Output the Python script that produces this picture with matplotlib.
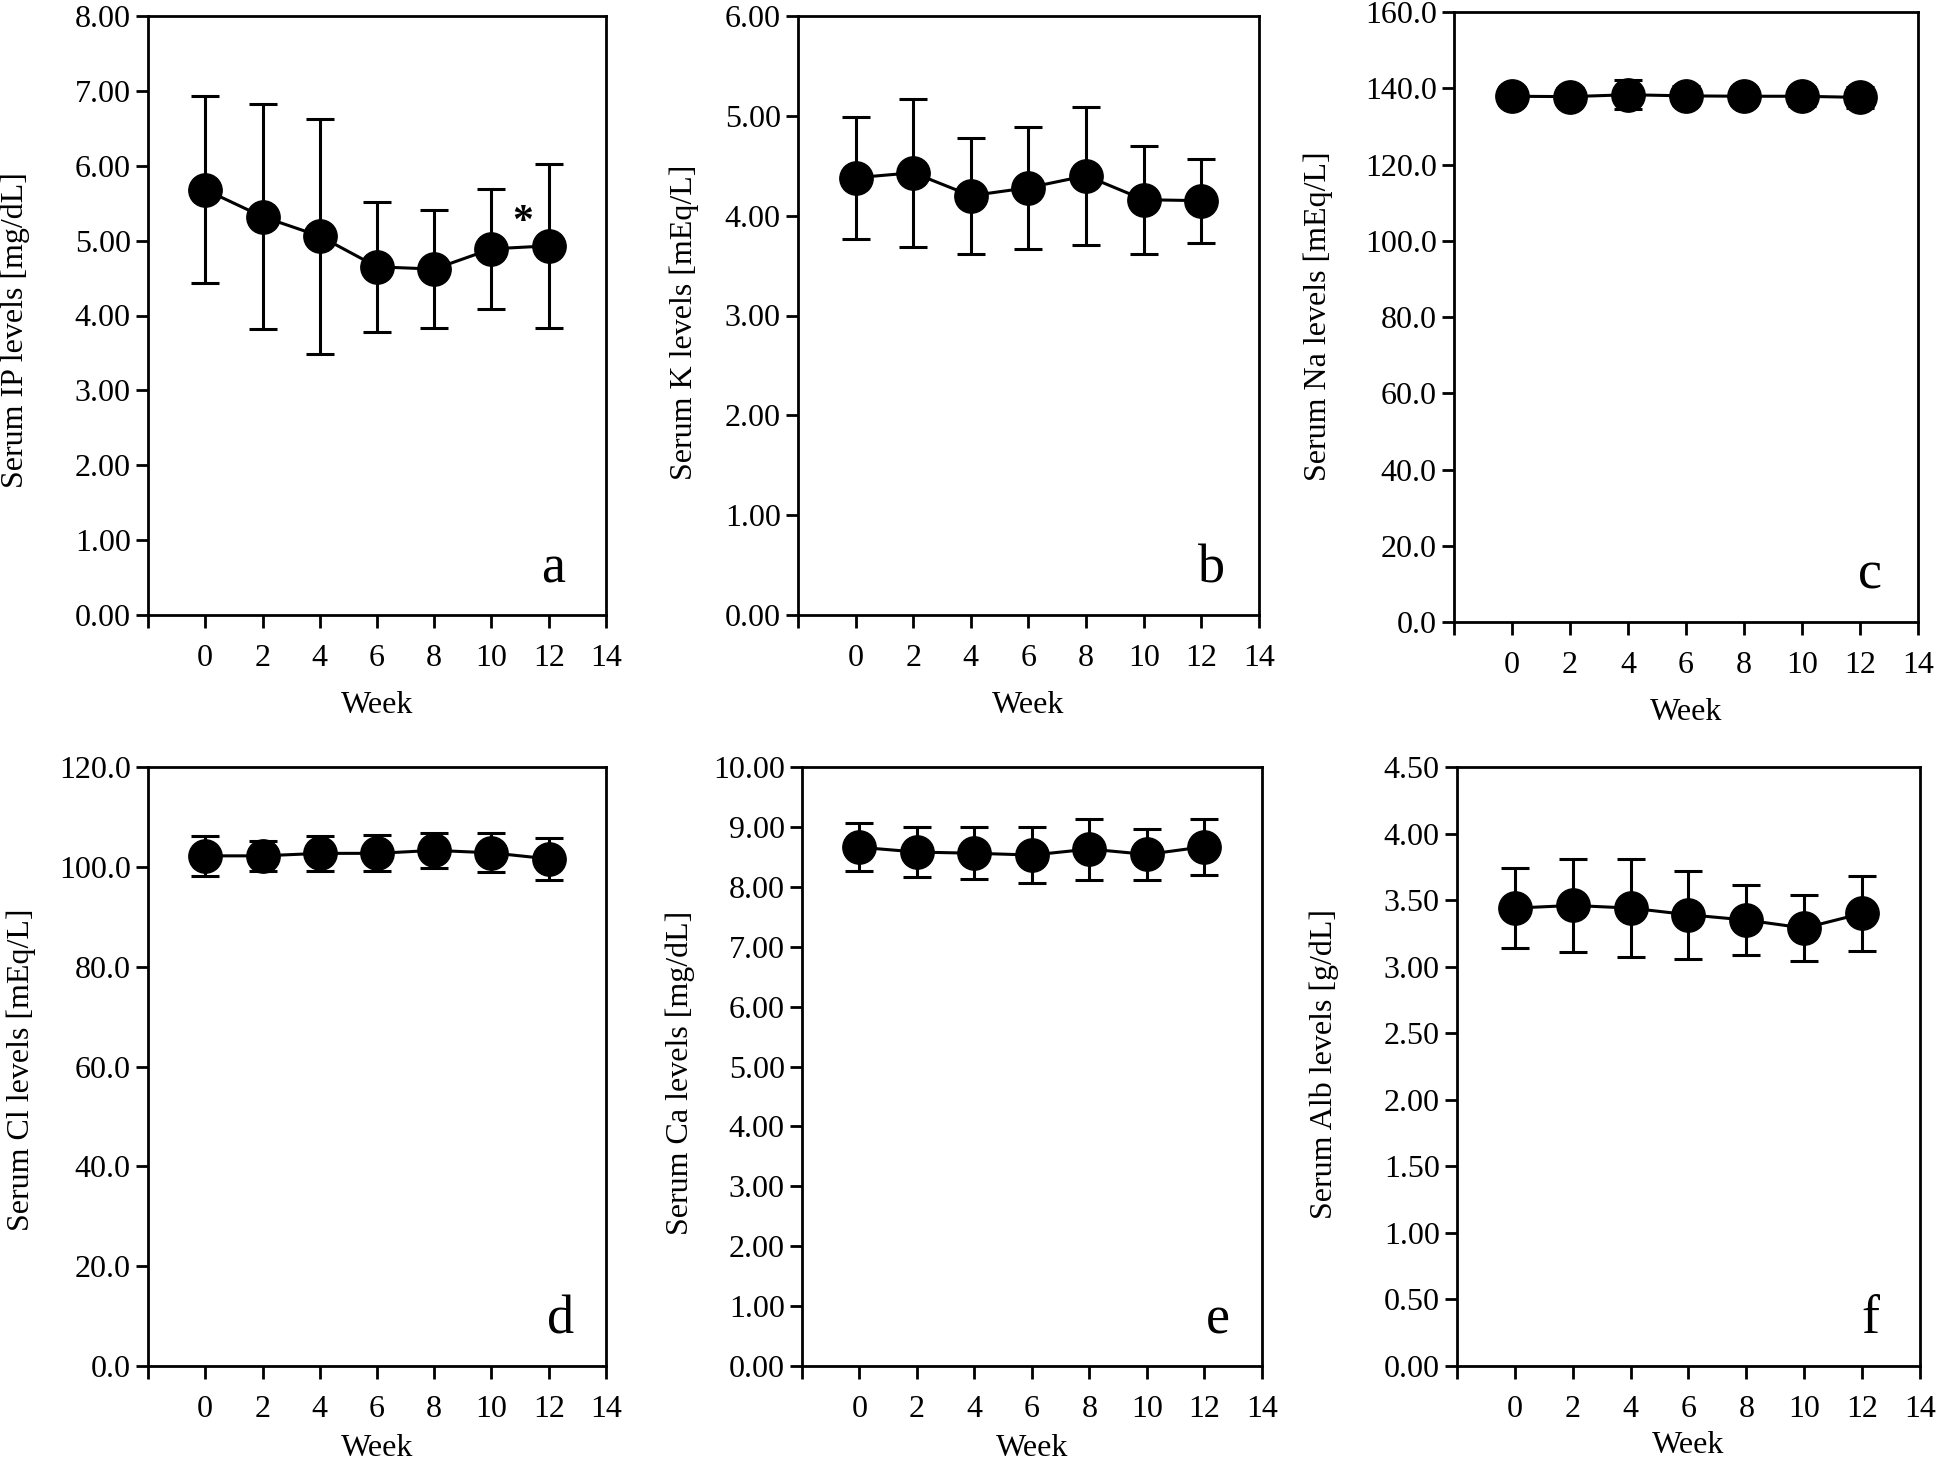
import matplotlib
matplotlib.use("Agg")
import matplotlib.pyplot as plt
from matplotlib.ticker import FormatStrFormatter
import numpy as np

plt.rcParams['font.family'] = ['Liberation Serif', 'DejaVu Serif']

weeks = [0, 2, 4, 6, 8, 10, 12]

ip_mean = [5.68, 5.32, 5.06, 4.65, 4.62, 4.89, 4.93]
ip_sd = [1.25, 1.50, 1.57, 0.87, 0.79, 0.80, 1.10]

k_mean = [4.38, 4.43, 4.20, 4.28, 4.40, 4.16, 4.15]
k_sd = [0.61, 0.74, 0.58, 0.61, 0.69, 0.54, 0.42]

na_mean = [137.9, 137.8, 138.3, 138.0, 137.9, 137.9, 137.6]
na_sd = [2.4, 2.3, 3.8, 2.5, 2.4, 2.5, 2.7]

cl_mean = [102.2, 102.2, 102.7, 102.7, 103.3, 102.8, 101.6]
cl_sd = [4.0, 3.0, 3.5, 3.6, 3.5, 3.9, 4.2]

ca_mean = [8.66, 8.58, 8.56, 8.53, 8.63, 8.54, 8.67]
ca_sd = [0.40, 0.41, 0.43, 0.47, 0.51, 0.42, 0.47]

alb_mean = [3.44, 3.46, 3.44, 3.39, 3.35, 3.29, 3.40]
alb_sd = [0.30, 0.35, 0.37, 0.33, 0.26, 0.25, 0.28]

W, H = 1940, 1462
fig = plt.figure(figsize=(W / 100, H / 100), dpi=100)

# left, right, top, bottom (px), y-label centre (x, y px), letter x (axes frac), xlabel pad
boxes = [
    (148, 606, 16, 615, 15, 330, 0.884, 13),
    (798, 1259, 16, 615, 684, 322, 0.898, 13),
    (1454, 1918, 12, 622, 1318, 316, 0.897, 13),
    (148, 606, 767, 1366, 21, 1070, 0.900, 7),
    (802, 1262, 767, 1366, 680, 1073, 0.905, 7),
    (1457, 1920, 767, 1366, 1324, 1064, 0.892, 5),
]

panels = [
    (ip_mean, ip_sd, 'Serum IP levels [mg/dL]', 8.0, 1.0, '%.2f', 'a'),
    (k_mean, k_sd, 'Serum K levels [mEq/L]', 6.0, 1.0, '%.2f', 'b'),
    (na_mean, na_sd, 'Serum Na levels [mEq/L]', 160.0, 20.0, '%.1f', 'c'),
    (cl_mean, cl_sd, 'Serum Cl levels [mEq/L]', 120.0, 20.0, '%.1f', 'd'),
    (ca_mean, ca_sd, 'Serum Ca levels [mg/dL]', 10.0, 1.0, '%.2f', 'e'),
    (alb_mean, alb_sd, 'Serum Alb levels [g/dL]', 4.5, 0.5, '%.2f', 'f'),
]

for (l, r, t, b, lx, ly, tx, xpad), (mean, sd, ylabel, ymax, step, fmt, letter) in zip(boxes, panels):
    ax = fig.add_axes([l / W, 1 - b / H, (r - l) / W, (b - t) / H])
    ax.errorbar(weeks, mean, yerr=sd, fmt='-o', color='black', lw=2.2,
                markersize=24, elinewidth=2.2, capsize=10, capthick=2.2)
    ax.set_xlim(-2, 14)
    ax.set_ylim(0, ymax)
    ax.set_xticks(np.arange(-2, 15, 2))
    ax.set_xticklabels([''] + [str(w) for w in range(0, 15, 2)])
    ax.set_yticks(np.arange(0, ymax + step / 2, step))
    ax.yaxis.set_major_formatter(FormatStrFormatter(fmt))
    ax.tick_params(direction='out', length=9, width=2, labelsize=23,
                   top=False, right=False)
    ax.tick_params(axis='x', pad=12)
    for s in ax.spines.values():
        s.set_linewidth(2)
    ax.set_xlabel('Week', fontsize=23, labelpad=xpad)
    ax.set_ylabel(ylabel, fontsize=23)
    ax.yaxis.set_label_coords((lx - l) / (r - l), (b - ly) / (b - t))
    ax.yaxis.label.set_verticalalignment('center')
    ax.text(tx, 0.055, letter, transform=ax.transAxes, fontsize=39,
            ha='center', va='baseline')
    if letter == 'a':
        ax.text(11.1, 4.98, '*', fontsize=30, fontweight='bold',
                ha='center', va='bottom')

fig.savefig('out.png', dpi=100)
